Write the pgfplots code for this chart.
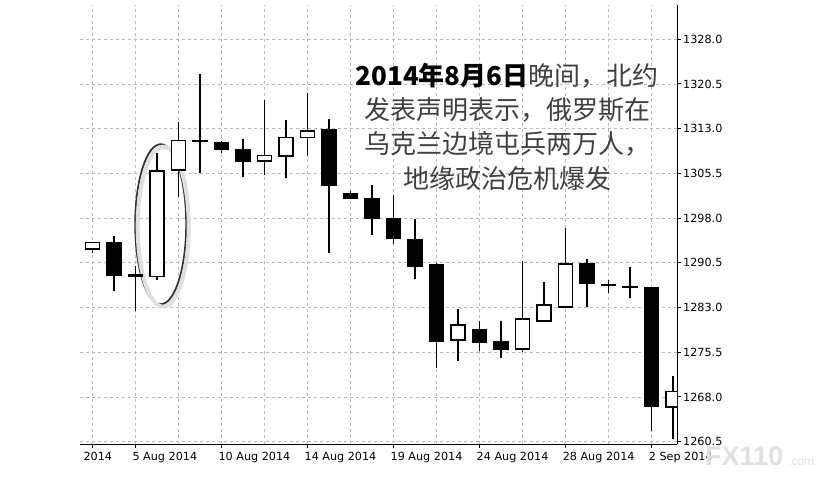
\documentclass[border=0pt]{standalone}
\usepackage{fontspec}
\setmainfont{DejaVu Sans}
\newfontfamily\cjk{Noto Sans CJK SC}
\newfontfamily\markfont{Liberation Sans}
\usepackage{pgfplots}
\pgfplotsset{compat=1.18}
\usepackage{pgfplotstable}

% daily candles, 3 Aug - 3 Sep 2014: index, open, high, low, close
\pgfplotstableread{
x  o       h       l       c
0  1292.80 1294.00 1292.10 1293.95
1  1293.80 1295.05 1285.80 1288.35
2  1288.45 1290.00 1282.50 1288.30
3  1288.20 1308.95 1287.60 1305.90
4  1306.06 1314.15 1301.60 1310.97
5  1311.05 1322.25 1305.50 1310.95
6  1310.70 1311.00 1308.95 1309.50
7  1309.40 1311.20 1304.90 1307.60
8  1307.60 1317.80 1305.20 1308.50
9  1308.45 1314.40 1304.80 1311.50
10 1311.50 1319.07 1308.45 1312.64
11 1312.76 1314.70 1292.10 1303.54
12 1302.15 1302.50 1301.15 1301.37
13 1301.30 1303.50 1295.20 1297.90
14 1297.97 1301.87 1293.60 1294.55
15 1294.45 1297.80 1287.75 1289.98
16 1290.14 1290.53 1272.84 1277.30
17 1277.58 1282.77 1273.95 1280.04
18 1279.26 1280.76 1275.74 1277.13
19 1277.25 1280.80 1274.52 1276.02
20 1276.02 1290.81 1275.62 1281.05
21 1280.76 1287.25 1280.70 1283.44
22 1283.06 1296.29 1283.00 1290.31
23 1290.31 1291.10 1283.06 1287.08
24 1286.85 1287.63 1285.40 1286.75
25 1286.55 1289.86 1284.67 1286.45
26 1286.34 1286.50 1262.34 1266.41
27 1266.31 1271.55 1260.95 1268.92
}\candles

\pgfplotsset{
  frame/.style={
    at={(80pt,34.7pt)}, anchor=south west,
    scale only axis, width=597pt, height=439.3pt,
    xmin=-0.572, xmax=27.18, ymin=1260.06, ymax=1333.75,
  },
}

\begin{document}
\begin{tikzpicture}
\fill[white] (0,0) rectangle (837pt,479pt);

\begin{axis}[frame,
  axis x line*=bottom, axis y line*=right,
  axis line style={black, line width=1pt},
  tick align=outside, major tick length=4pt,
  tick style={black, line width=1pt},
  ticklabel style={font=\fontsize{11.2}{13}\selectfont, inner sep=0pt},
  xtick={0,2,6,10,14,18,22,26},
  xticklabels={\hspace*{-6pt}2014, 5 Aug 2014, 10 Aug 2014, 14 Aug 2014,
    19 Aug 2014, 24 Aug 2014, 28 Aug 2014, 2 Sep 2014},
  xticklabel style={anchor=north west, xshift=-3pt, yshift=-4pt},
  minor xtick={0,2,...,26}, minor tick length=0pt,
  xminorgrids, ymajorgrids,
  minor grid style={gray!55, dash pattern=on 3pt off 3pt, line width=0.8pt},
  major grid style={gray!55, dash pattern=on 3pt off 3pt, line width=0.8pt},
  ytick={1260.5,1268,1275.5,1283,1290.5,1298,1305.5,1313,1320.5,1328},
  yticklabels={1260.5,1268.0,1275.5,1283.0,1290.5,1298.0,1305.5,1313.0,1320.5,1328.0},
  yticklabel style={anchor=west, xshift=2pt},
]
\addplot[draw=none, forget plot,
  error bars/.cd, y dir=plus, y explicit, error mark=none,
  error bar style={draw=black, solid, line width=1.6pt}]
  table[x=x, y=l, y error expr=\thisrow{h}-\thisrow{l}] {\candles};
\end{axis}

\begin{axis}[frame, hide axis, ybar stacked, bar width=14pt]
\addplot[draw=none, fill=none]
  table[x=x, y expr={min(\thisrow{o},\thisrow{c})}] {\candles};
\addplot[fill=white, draw=black, line width=1.4pt]
  table[x=x, y expr={max(\thisrow{c}-\thisrow{o},0)}] {\candles};
\addplot[fill=black, draw=black, line width=1.4pt]
  table[x=x, y expr={max(\thisrow{o}-\thisrow{c},0)}] {\candles};
\draw[gray!25, line width=4pt] ([xshift=2.5pt,yshift=-2.5pt]axis cs:3.18,1296.98)
  ellipse[x radius=25.5pt, y radius=80pt];
\draw[black!80, line width=1.8pt] (axis cs:3.18,1296.98)
  ellipse[x radius=25.5pt, y radius=80pt];
\end{axis}

\node[align=center, inner sep=0pt, text=black!75,
  font=\cjk\fontsize{26}{34.4}\selectfont] at (507pt,352.3pt)
  {\textcolor{black}{\bfseries 2014年8月6日}晚间，北约\\
   发表声明表示，俄罗斯在\\
   乌克兰边境屯兵两万人，\\
   地缘政治危机爆发};

\node[anchor=base west, inner sep=0pt, text=black!12,
  font=\markfont\bfseries\fontsize{27}{30}\selectfont] at (705pt,14pt) {FX110};
\node[anchor=base west, inner sep=0pt, text=black!12,
  font=\markfont\fontsize{12}{14}\selectfont] at (788pt,14pt) {.com};
\end{tikzpicture}
\end{document}
